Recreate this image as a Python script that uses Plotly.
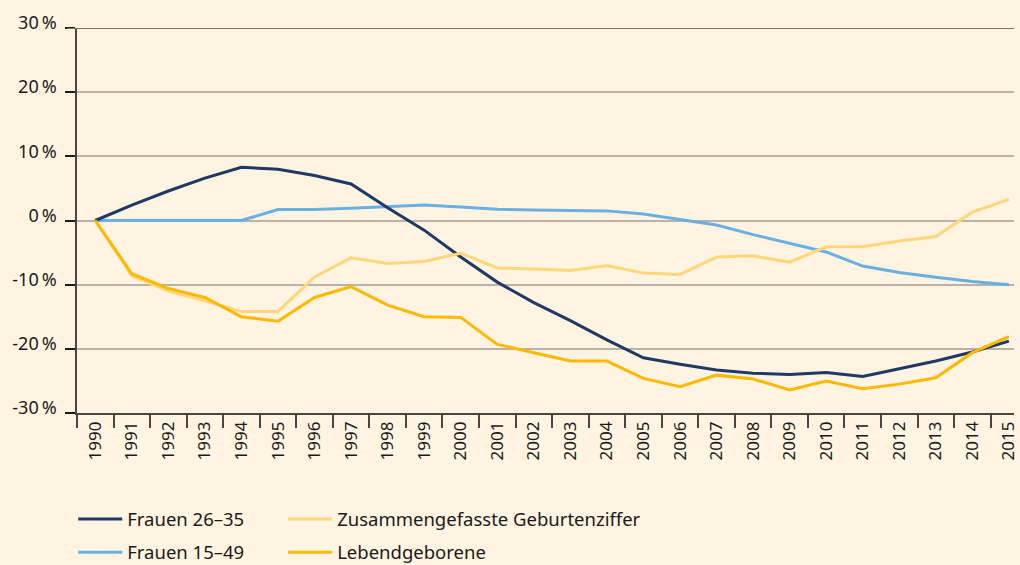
import plotly.graph_objects as go

years = [str(y) for y in range(1990, 2016)]

frauen_26_35 = [0, 2.4, 4.6, 6.6, 8.3, 8.0, 7.0, 5.7, 2.0, -1.5, -5.7, -9.6, -12.8, -15.6,
                -18.6, -21.4, -22.4, -23.3, -23.8, -24.0, -23.7, -24.3, -23.1, -21.9, -20.5, -18.8]
frauen_15_49 = [0, 0, 0, 0, 0, 1.7, 1.7, 1.9, 2.2, 2.4, 2.1, 1.75, 1.65, 1.6,
                1.5, 1.0, 0.2, -0.7, -2.2, -3.5, -4.9, -7.1, -8.1, -8.85, -9.5, -10.0]
geburtenziffer = [0, -8.6, -11.0, -12.5, -14.2, -14.2, -8.8, -5.8, -6.7, -6.4, -5.1, -7.4, -7.55, -7.8,
                  -7.0, -8.2, -8.4, -5.7, -5.5, -6.5, -4.1, -4.1, -3.2, -2.5, 1.3, 3.3]
lebendgeborene = [0, -8.3, -10.6, -12.0, -15.0, -15.7, -12.0, -10.3, -13.2, -15.0, -15.1, -19.3, -20.6, -21.9,
                  -21.9, -24.6, -25.9, -24.1, -24.7, -26.4, -25.0, -26.2, -25.5, -24.5, -20.6, -18.1]

y_ticks = [30, 20, 10, 0, -10, -20, -30]
y_ticktext = ["30\u2009%", "20\u2009%", "10\u2009%", "0\u2009%", "-10\u2009%", "-20\u2009%", "-30\u2009%"]

NAVY = "#1f3864"
LBLUE = "#6aafe1"
LYELLOW = "#ffd679"
GOLD = "#ffb800"
BG = "#fef4e1"
FONT = "Noto Sans"

fig = go.Figure()
fig.add_trace(go.Scatter(x=years, y=frauen_15_49, name="Frauen 15\u201349", mode="lines",
                         line=dict(color=LBLUE, width=3), legend="legend", legendrank=2,
                         legendgroup="b"))
fig.add_trace(go.Scatter(x=years, y=frauen_26_35, name="Frauen 26\u201335", mode="lines",
                         line=dict(color=NAVY, width=3), legend="legend", legendrank=1,
                         legendgroup="a"))
fig.add_trace(go.Scatter(x=years, y=geburtenziffer, name="Zusammengefasste Geburtenziffer", mode="lines",
                         line=dict(color=LYELLOW, width=3), legend="legend2", legendrank=1,
                         legendgroup="c"))
fig.add_trace(go.Scatter(x=years, y=lebendgeborene, name="Lebendgeborene", mode="lines",
                         line=dict(color=GOLD, width=3), legend="legend2", legendrank=2,
                         legendgroup="d"))

# top border line at 30 %
fig.add_shape(type="line", xref="paper", yref="y", x0=-0.011, x1=1, y0=30, y1=30,
              line=dict(color="#7a7266", width=2))

legend_common = dict(orientation="v", yanchor="top", xanchor="left", yref="container",
                     bgcolor="rgba(0,0,0,0)", itemwidth=44,
                     font=dict(family=FONT, size=18.5, color="#1a1a1a"), tracegroupgap=6,
                     traceorder="grouped")

fig.update_layout(
    width=1020, height=565,
    paper_bgcolor=BG, plot_bgcolor=BG,
    margin=dict(l=77, r=6, t=28, b=152, autoexpand=False),
    font=dict(family=FONT, size=16, color="#1a1a1a"),
    showlegend=True,
    legend=dict(x=-0.004, y=0.114, **legend_common),
    legend2=dict(x=0.22, y=0.114, **legend_common),
    xaxis=dict(
        type="category", range=[-0.5, 25.14], tickson="boundaries", automargin=False,
        ticks="outside", ticklen=13, tickcolor="#4a4540", tickwidth=1.5,
        tickangle=-90, tickfont=dict(family=FONT, size=17, color="#1a1a1a"),
        showline=True, linecolor="#4a4540", linewidth=1.5, showgrid=False, zeroline=False,
    ),
    yaxis=dict(
        range=[-30, 30], tickvals=y_ticks, ticktext=y_ticktext, automargin=False,
        ticks="outside", ticklen=10, tickcolor="#1a1a1a", tickwidth=1.5,
        tickfont=dict(family=FONT, size=18, color="#1a1a1a"),
        ticklabelstandoff=5, ticklabelshift=-5,
        showline=True, linecolor="#4a4540", linewidth=1.5,
        showgrid=True, gridcolor="#b8b3aa", gridwidth=1.5, zeroline=False,
    ),
)

fig.write_html("out.html", config={"displayModeBar": False},
               post_script="document.body.style.margin='0';document.body.style.overflow='hidden';")
